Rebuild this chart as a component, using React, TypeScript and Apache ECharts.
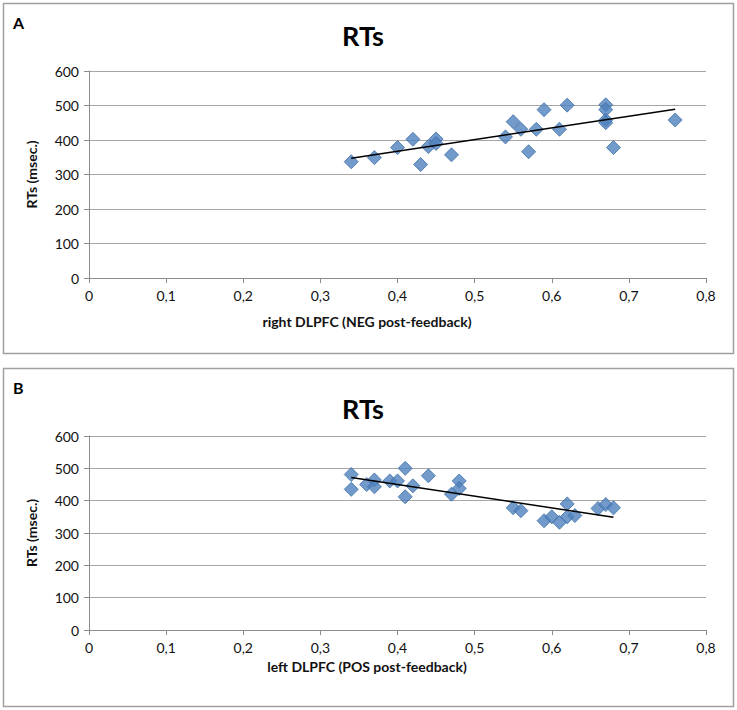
import React, { useEffect, useRef } from "react";
import * as echarts from "echarts";

const xTicksA = [0, 0.1, 0.2, 0.3, 0.4, 0.5, 0.6, 0.7, 0.8];
const yTicks = [0, 100, 200, 300, 400, 500, 600];

const aX = [0.34, 0.37, 0.40, 0.42, 0.43, 0.44, 0.45, 0.45, 0.47, 0.54, 0.55, 0.56, 0.57, 0.58, 0.59, 0.61, 0.62, 0.67, 0.67, 0.67, 0.67, 0.68, 0.76];
const aY = [337, 349, 378, 402, 329, 381, 403, 390, 357, 409, 453, 431, 366, 431, 488, 431, 501, 502, 488, 458, 450, 378, 458];

const bX = [0.34, 0.34, 0.36, 0.37, 0.37, 0.39, 0.40, 0.41, 0.41, 0.42, 0.44, 0.47, 0.48, 0.48, 0.55, 0.56, 0.59, 0.60, 0.61, 0.62, 0.62, 0.63, 0.66, 0.67, 0.68];
const bY = [481, 435, 450, 464, 443, 461, 461, 500, 412, 446, 477, 420, 461, 438, 378, 369, 338, 350, 333, 390, 350, 354, 376, 388, 378];

const panelLabels = ["A", "B"];
const chartTitle = "RTs";
const yName = "RTs (msec.)";
const xNames = ["right DLPFC (NEG post-feedback)", "left DLPFC (POS post-feedback)"];

function trend(xs: number[], ys: number[]) {
  const n = xs.length;
  const mx = xs.reduce((s, v) => s + v, 0) / n;
  const my = ys.reduce((s, v) => s + v, 0) / n;
  let sxy = 0, sxx = 0;
  for (let i = 0; i < n; i++) {
    sxy += (xs[i] - mx) * (ys[i] - my);
    sxx += (xs[i] - mx) * (xs[i] - mx);
  }
  const b = sxy / sxx;
  const a = my - b * mx;
  const x0 = Math.min(...xs);
  const x1 = Math.max(...xs);
  return [[x0, a + b * x0], [x1, a + b * x1]];
}

const FONT = "Lato, 'Open Sans', sans-serif";

export default function App() {
  const ref = useRef<HTMLDivElement>(null);
  useEffect(() => {
    if (!ref.current) return;
    const chart = echarts.init(ref.current, undefined, { renderer: "svg" });
    const grids = [
      { left: 89, top: 71, width: 617, height: 207 },
      { left: 89, top: 436, width: 617, height: 194 },
    ];
    const xAxisBase = (gi: number) => ({
      type: "value",
      gridIndex: gi,
      min: 0,
      max: 0.8,
      interval: 0.1,
      axisLine: { show: true, onZero: false, lineStyle: { color: "#8c8c8c", width: 1 } },
      axisTick: { show: true, inside: false, length: 5, lineStyle: { color: "#8c8c8c" } },
      splitLine: { show: false },
      axisLabel: {
        color: "#111",
        fontSize: 14,
        fontFamily: FONT,
        margin: 10,
        formatter: (v: number) => {
          const t = xTicksA.find((k) => Math.abs(k - v) < 1e-9);
          return t === undefined ? "" : String(Number(t.toFixed(1))).replace(".", ",");
        },
      },
    });
    const yAxisBase = (gi: number) => ({
      type: "value",
      gridIndex: gi,
      min: yTicks[0],
      max: yTicks[yTicks.length - 1],
      interval: 100,
      axisLine: { show: true, lineStyle: { color: "#8c8c8c", width: 1 } },
      axisTick: { show: true, inside: false, length: 5, lineStyle: { color: "#8c8c8c" } },
      splitLine: { show: true, lineStyle: { color: "#a6a6a6", width: 1 } },
      axisLabel: { color: "#111", fontSize: 14, fontFamily: FONT, margin: 10 },
    });
    const scatterStyle = {
      type: "scatter",
      symbol: "diamond",
      symbolSize: 14,
      itemStyle: { color: "#4f81bd", borderColor: "#3d6fa8", borderWidth: 1 },
      z: 3,
    };
    const lineStyle = {
      type: "line",
      symbol: "none",
      lineStyle: { color: "#000", width: 1.5 },
      z: 4,
      silent: true,
    };
    const panels = [
      { top: 3, bottom: 353, gridMid: 71 + 207 / 2, titleY: 35, labelY: 22, xNameY: 321 },
      { top: 368, bottom: 706, gridMid: 436 + 194 / 2, titleY: 408, labelY: 387, xNameY: 666 },
    ];
    const graphic: any[] = [];
    panels.forEach((p, i) => {
      graphic.push({
        type: "rect",
        shape: { x: 3.5, y: p.top + 0.5, width: 730, height: p.bottom - p.top },
        style: { fill: "none", stroke: "#a0a0a0", lineWidth: 1.5 },
        z: -1,
      });
      graphic.push({
        type: "text",
        x: 13,
        y: p.labelY,
        style: { text: panelLabels[i], font: `bold 16px ${FONT}`, fill: "#000", textVerticalAlign: "middle" },
      });
      graphic.push({
        type: "text",
        x: 363,
        y: p.titleY,
        style: { text: chartTitle, font: `bold 27px ${FONT}`, fill: "#000", textAlign: "center", textVerticalAlign: "middle" },
      });
      graphic.push({
        type: "text",
        x: 31,
        y: p.gridMid,
        rotation: Math.PI / 2,
        style: { text: yName, font: `bold 14px ${FONT}`, fill: "#111", textAlign: "center", textVerticalAlign: "middle" },
      });
      graphic.push({
        type: "text",
        x: 367,
        y: p.xNameY,
        style: { text: xNames[i], font: `bold 14px ${FONT}`, fill: "#111", textAlign: "center", textVerticalAlign: "middle" },
      });
    });
    chart.setOption({
      animation: false,
      backgroundColor: "#fff",
      grid: grids,
      xAxis: [xAxisBase(0), xAxisBase(1)],
      yAxis: [yAxisBase(0), yAxisBase(1)],
      series: [
        { ...scatterStyle, xAxisIndex: 0, yAxisIndex: 0, data: aX.map((x, i) => [x, aY[i]]) },
        { ...lineStyle, xAxisIndex: 0, yAxisIndex: 0, data: trend(aX, aY) },
        { ...scatterStyle, xAxisIndex: 1, yAxisIndex: 1, data: bX.map((x, i) => [x, bY[i]]) },
        { ...lineStyle, xAxisIndex: 1, yAxisIndex: 1, data: trend(bX, bY) },
      ],
      graphic,
    });
    return () => chart.dispose();
  }, []);
  return (
    <div
      ref={ref}
      style={{ position: "absolute", left: 0, top: 0, width: 737, height: 710, background: "#fff" }}
    />
  );
}
